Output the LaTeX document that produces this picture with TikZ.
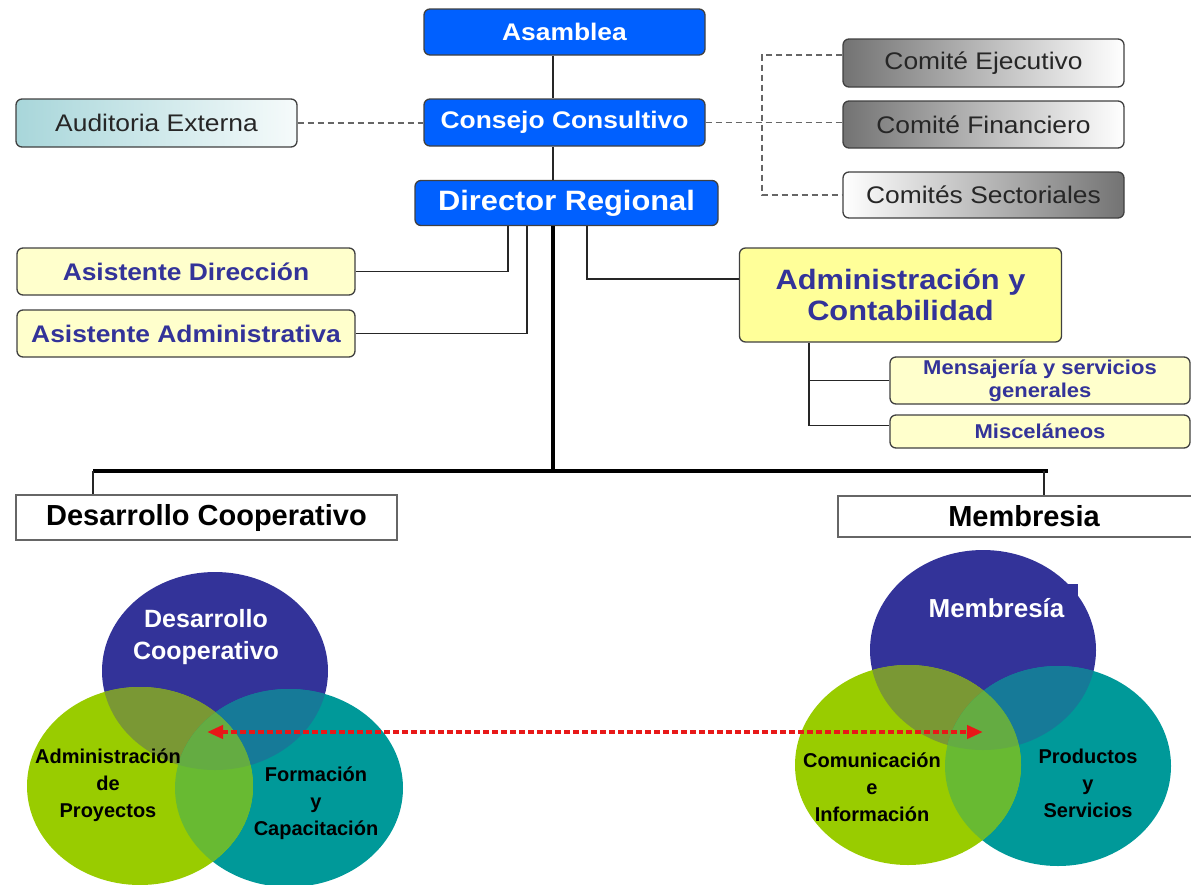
\documentclass[tikz,border=0pt]{standalone}
\usepackage{fontspec}
\setmainfont{Liberation Sans}
\newfontfamily\orgfont[FakeStretch=1.1]{Liberation Sans}
\usetikzlibrary{arrows.meta}
\definecolor{orgblue}{RGB}{0,96,255}
\definecolor{ylight}{RGB}{255,255,204}
\definecolor{ystrong}{RGB}{255,255,153}
\definecolor{textblue}{RGB}{51,51,153}
\definecolor{vblue}{RGB}{51,51,153}
\definecolor{vgreen}{RGB}{153,204,0}
\definecolor{vteal}{RGB}{0,153,153}
\definecolor{olive}{RGB}{122,152,52}
\definecolor{blueteal}{RGB}{22,122,152}
\definecolor{lgreen}{RGB}{104,186,50}
\definecolor{cgreen}{RGB}{100,172,66}
\definecolor{audleft}{RGB}{168,214,218}
\definecolor{audright}{RGB}{246,251,251}
\definecolor{arrred}{RGB}{232,24,24}
\newcommand\fsz[2]{\fontsize{#1}{#2}\selectfont}
\begin{document}
\begin{tikzpicture}[x=1pt,y=-1pt,
  box/.style={draw=black!75, line width=1.3pt, rounded corners=6pt, inner sep=0pt, align=center},
  bluebox/.style={box, fill=orgblue, text=white, font=\orgfont\bfseries\fsz{24}{28}},
  graybox/.style={box, text=black!85, font=\orgfont\fsz{24}{28}},
  ybox/.style={box, fill=ylight, text=textblue, font=\orgfont\bfseries\fsz{24}{28}},
  plainbox/.style={draw=black!60, line width=1.3pt, fill=white, inner sep=0pt, font=\bfseries\fsz{29}{34}},
  conn/.style={line width=1.5pt, draw=black!85},
  mainconn/.style={line width=4pt, draw=black},
  dashconn/.style={line width=1.5pt, draw=black!60, dash pattern=on 6pt off 4pt},
  vtext/.style={font=\bfseries\fsz{20}{27}, align=center, text=black},
  wtext/.style={font=\bfseries\fsz{25}{32}, align=center, text=white},
  redarrow/.style={draw=arrred, line width=4pt, dash pattern=on 6pt off 3pt, {Triangle[length=16pt,width=13pt]}-{Triangle[length=16pt,width=13pt]}}
]
\useasboundingbox (0,0) rectangle (1191,884);
\clip (0,0) rectangle (1191,884);

% ---- org chart nodes ----
\node[bluebox, minimum width=281pt, minimum height=46pt] (asam) at (564.5,32) {Asamblea};
\node[bluebox, minimum width=281pt, minimum height=47pt] (cons) at (564.5,122.5) {Consejo Consultivo};
\node[bluebox, minimum width=303pt, minimum height=45pt, font=\orgfont\bfseries\fsz{28}{32}] (dir) at (566.5,203) {Director Regional};
\node[graybox, left color=audleft, right color=audright, minimum width=281pt, minimum height=48pt] (aud) at (156.5,123) {Auditoria Externa};
\node[graybox, left color=black!55, right color=white, minimum width=281pt, minimum height=48pt] (eje) at (983.5,63) {Comité Ejecutivo};
\node[graybox, left color=black!55, right color=white, minimum width=281pt, minimum height=47pt] (fin) at (983.5,124.5) {Comité Financiero};
\node[graybox, left color=white, right color=black!55, minimum width=281pt, minimum height=46pt] (sec) at (983.5,195) {Comités Sectoriales};
\node[ybox, minimum width=338pt, minimum height=47pt] (asisdir) at (186,271.5) {Asistente Dirección};
\node[ybox, minimum width=338pt, minimum height=47pt] (asisadm) at (186,333.5) {Asistente Administrativa};
\node[ybox, fill=ystrong, minimum width=322pt, minimum height=94pt, font=\orgfont\bfseries\fsz{28}{31}] (admin) at (900.5,295) {Administración y\\Contabilidad};
\node[ybox, minimum width=300pt, minimum height=47pt, font=\orgfont\bfseries\fsz{20}{23}] (mens) at (1040,380.5) {Mensajería y servicios\\generales};
\node[ybox, minimum width=300pt, minimum height=33pt, font=\orgfont\bfseries\fsz{20}{23}] (misc) at (1040,431.5) {Misceláneos};
\node[plainbox, minimum width=381pt, minimum height=45pt] (desa) at (206.5,517.5) {Desarrollo Cooperativo};
\node[plainbox, minimum width=372pt, minimum height=41pt] (memb) at (1024,516.5) {Membresia};

% ---- helper coordinates ----
\coordinate (spine) at (553,0);
\coordinate (c508) at (508,0);
\coordinate (c527) at (527,0);
\coordinate (c587) at (587,0);
\coordinate (c809) at (809,0);
\coordinate (dv) at (762,0);
\coordinate (hub) at (553,471);
\coordinate (barL) at (93,471);
\coordinate (barR) at (1048,471);
\coordinate (barM) at (1044,471);

% ---- connectors ----
\draw[conn, line width=2pt] (asam.south -| spine) -- (cons.north -| spine);
\draw[conn, line width=2pt] (cons.south -| spine) -- (dir.north -| spine);
\draw[mainconn] (dir.south -| spine) -- (hub);
\draw[mainconn] (barL) -- (barR);
\draw[conn] (barL) -- (barL |- desa.north);
\draw[conn] (barM) -- (barM |- memb.north);
\draw[conn] (asisdir.east) -| (dir.south -| c508);
\draw[conn] (asisadm.east) -| (dir.south -| c527);
\draw[conn] ([yshift=16pt]admin.west) -| (dir.south -| c587);
\draw[conn] (admin.south -| c809) |- (mens.west);
\draw[conn] (admin.south -| c809) |- ([yshift=6pt]misc.west);
\draw[dashconn] (aud.east) -- (aud.east -| cons.west);
\draw[dashconn] (cons.east) -- (cons.east -| fin.west);
\draw[dashconn] ([yshift=8pt]eje.west) -| (sec.west -| dv) -- (sec.west);

% ---- left Venn ----
\fill[vblue] (215,671) ellipse [x radius=113pt, y radius=99pt];
\fill[vteal] (289,788) ellipse [x radius=114pt, y radius=99pt];
\fill[vgreen] (140,786) ellipse [x radius=113pt, y radius=99pt];
\begin{scope}
  \clip (215,671) ellipse [x radius=113pt, y radius=99pt];
  \fill[olive] (140,786) ellipse [x radius=113pt, y radius=99pt];
  \fill[blueteal] (289,788) ellipse [x radius=114pt, y radius=99pt];
\end{scope}
\begin{scope}
  \clip (289,788) ellipse [x radius=114pt, y radius=99pt];
  \fill[lgreen] (140,786) ellipse [x radius=113pt, y radius=99pt];
  \clip (215,671) ellipse [x radius=113pt, y radius=99pt];
  \fill[cgreen] (140,786) ellipse [x radius=113pt, y radius=99pt];
\end{scope}

% ---- right Venn ----
\fill[vblue] (983,650) ellipse [x radius=113pt, y radius=100pt];
\node[fill=vblue, minimum width=163pt, minimum height=48pt, inner sep=0pt, wtext, font=\bfseries\fsz{26}{32}] (membv) at (996.5,608) {Membresía};
\fill[vteal] (1058,766) ellipse [x radius=113pt, y radius=100pt];
\fill[vgreen] (908,765) ellipse [x radius=113pt, y radius=100pt];
\begin{scope}
  \clip (983,650) ellipse [x radius=113pt, y radius=100pt];
  \fill[olive] (908,765) ellipse [x radius=113pt, y radius=100pt];
  \fill[blueteal] (1058,766) ellipse [x radius=113pt, y radius=100pt];
\end{scope}
\begin{scope}
  \clip (1058,766) ellipse [x radius=113pt, y radius=100pt];
  \fill[lgreen] (908,765) ellipse [x radius=113pt, y radius=100pt];
  \clip (983,650) ellipse [x radius=113pt, y radius=100pt];
  \fill[cgreen] (908,765) ellipse [x radius=113pt, y radius=100pt];
\end{scope}

% ---- Venn labels ----
\node[wtext] (desv) at (206,637) {Desarrollo\\Cooperativo};
\node[vtext] (admv) at (108,785) {Administración\\de\\Proyectos};
\node[vtext] (forv) at (316,803) {Formación\\y\\Capacitación};
\node[vtext] (comv) at (872,787) {Comunicación\\e\\Información};
\node[vtext] (prov) at (1088,783) {Productos\\y\\Servicios};

% ---- red arrow ----
\coordinate (aL) at (207,732);
\coordinate (aR) at (983,732);
\draw[redarrow] (aL) -- (aR);
\end{tikzpicture}
\end{document}
